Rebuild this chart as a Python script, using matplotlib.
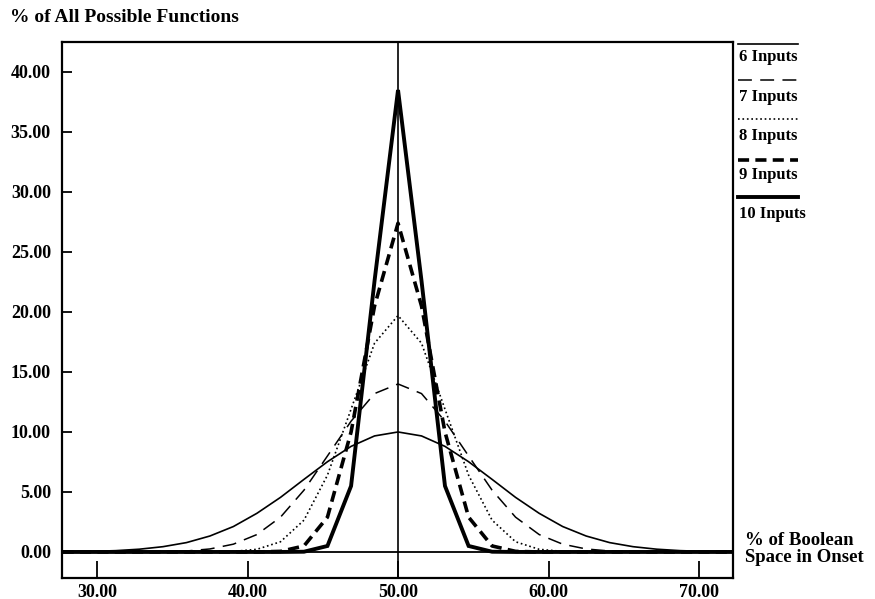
import numpy as np
import matplotlib
matplotlib.use("Agg")
import matplotlib.pyplot as plt
from matplotlib.lines import Line2D

plt.rcParams['font.family'] = ['Liberation Serif', 'DejaVu Serif']
plt.rcParams['font.weight'] = 'bold'
plt.rcParams['lines.scale_dashes'] = False

# % of boolean space in onset (bin centres)
x = [26.56, 28.12, 29.69, 31.25, 32.81, 34.38, 35.94, 37.50, 39.06, 40.62,
     42.19, 43.75, 45.31, 46.88, 48.44, 50.00, 51.56, 53.12, 54.69, 56.25,
     57.81, 59.38, 60.94, 62.50, 64.06, 65.62, 67.19, 68.75, 70.31, 71.88, 73.44]

# % of all possible functions
in6 = [0.0, 0.02, 0.05, 0.11, 0.23, 0.44, 0.78, 1.33, 2.12, 3.22, 4.55, 6.05,
       7.52, 8.80, 9.67, 10.0, 9.67, 8.80, 7.52, 6.05, 4.55, 3.22, 2.12,
       1.33, 0.78, 0.44, 0.23, 0.11, 0.05, 0.02, 0.0]
in7 = [0.0, 0.0, 0.0, 0.0, 0.0, 0.02, 0.08, 0.25, 0.65, 1.45, 2.9, 5.15,
       8.0, 10.9, 13.2, 14.0, 13.2, 10.9, 8.0, 5.15, 2.9, 1.45, 0.65,
       0.25, 0.08, 0.02, 0.0, 0.0, 0.0, 0.0, 0.0]
in8 = [0.0, 0.0, 0.0, 0.0, 0.0, 0.0, 0.0, 0.01, 0.05, 0.22, 0.85, 2.65,
       6.4, 11.9, 17.4, 19.7, 17.4, 11.9, 6.4, 2.65, 0.85, 0.22, 0.05,
       0.01, 0.0, 0.0, 0.0, 0.0, 0.0, 0.0, 0.0]
in9 = [0.0, 0.0, 0.0, 0.0, 0.0, 0.0, 0.0, 0.0, 0.0, 0.0, 0.05, 0.5,
       2.9, 10.0, 20.5, 27.4, 20.5, 10.0, 2.9, 0.5, 0.05, 0.0, 0.0,
       0.0, 0.0, 0.0, 0.0, 0.0, 0.0, 0.0, 0.0]
in10 = [0.0, 0.0, 0.0, 0.0, 0.0, 0.0, 0.0, 0.0, 0.0, 0.0, 0.0, 0.02,
        0.5, 5.5, 22.6, 38.5, 22.6, 5.5, 0.5, 0.02, 0.0, 0.0, 0.0,
        0.0, 0.0, 0.0, 0.0, 0.0, 0.0, 0.0, 0.0]

labels = ['6 Inputs', '7 Inputs', '8 Inputs', '9 Inputs', '10 Inputs']
yticks = [0, 5, 10, 15, 20, 25, 30, 35, 40]
xticks = [30, 40, 50, 60, 70]

# line styles for each input count
styles = [
    dict(lw=1.2, ls='-'),
    dict(lw=1.1, dashes=(10, 6)),
    dict(lw=1.2, dashes=(1.2, 2.0)),
    dict(lw=2.6, dashes=(8, 4.5)),
    dict(lw=2.8, ls='-'),
]

fig = plt.figure(figsize=(8.75, 5.99), dpi=100)
ax = fig.add_axes([62/875, 1-578/599, (733-62)/875, (578-42)/599])

ax.axhline(0, color='black', lw=1.3, zorder=1)
ax.axvline(50, color='black', lw=1.2, zorder=1)

for ys, st in zip([in6, in7, in8, in9, in10], styles):
    ax.plot(x, ys, color='black', solid_joinstyle='miter', zorder=2, **st)

ax.set_xlim(27.67, 72.26)
ax.set_ylim(-2.17, 42.5)
ax.set_yticks(yticks)
ax.set_yticklabels(['%.2f' % v for v in yticks])
ax.set_xticks(xticks)
ax.set_xticklabels(['%.2f' % v for v in xticks])
ax.tick_params(axis='y', direction='in', length=7, width=1.3, pad=8, labelsize=13)
ax.tick_params(axis='x', direction='in', length=12, width=1.3, pad=4, labelsize=13)
for s in ax.spines.values():
    s.set_linewidth(1.6)

fig.text(10/875, 1-18/599, '% of All Possible Functions', fontsize=14,
         fontweight='bold', va='center', ha='left')
fig.text(745/875, 1-532/599, '% of Boolean\nSpace in Onset', fontsize=13.5,
         fontweight='bold', va='top', ha='left', linespacing=1.0)

# hand-drawn legend to the right of the axes
line_y = [44, 80, 119, 160, 197]
text_y = [57, 97, 136, 175, 214]
for lab, st, ly, ty in zip(labels, styles, line_y, text_y):
    fig.add_artist(Line2D([738/875, 798/875], [1-ly/599, 1-ly/599],
                          color='black', transform=fig.transFigure, **st))
    fig.text(739/875, 1-ty/599, lab, fontsize=12, fontweight='bold',
             va='center', ha='left')

fig.savefig('out.png', dpi=100)
